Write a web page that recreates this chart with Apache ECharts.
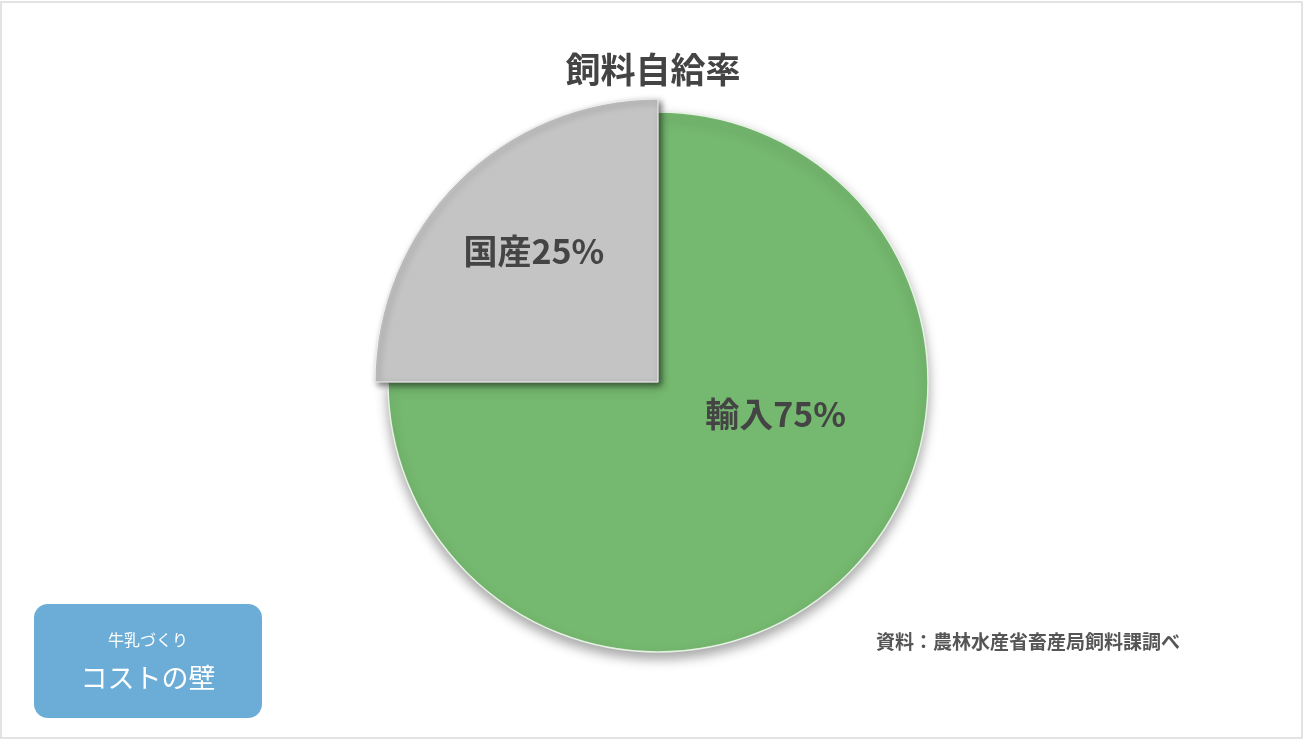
<!DOCTYPE html>
<html>
<head>
<meta charset="utf-8">
<script src="https://cdn.jsdelivr.net/npm/echarts@6/dist/echarts.min.js"></script>
<style>
html,body{margin:0;padding:0;background:#fff;}
#chart{width:1306px;height:742px;}
</style>
</head>
<body>
<div id="chart"></div>
<script>
// Data
const chartTitle = '飼料自給率';
const categories = ['輸入', '国産'];
const values = [75, 25];
const sliceColors = ['#75b86f', '#c4c4c4'];
const sourceNote = '資料：農林水産省畜産局飼料課調べ';
const badgeLines = ['牛乳づくり', 'コストの壁'];

const FONT = '"Noto Sans CJK JP", "Noto Sans", sans-serif';
const CENTER = [658, 382];

function seriesData(activeIndex) {
  return categories.map((name, i) => {
    if (i === activeIndex) {
      return {
        name, value: values[i],
        itemStyle: activeIndex === 0 ? {
          color: sliceColors[i],
          borderColor: '#e6f2e4', borderWidth: 1.5,
          shadowBlur: 12, shadowColor: 'rgba(0,0,0,0.35)', shadowOffsetX: 0, shadowOffsetY: 6
        } : {
          color: sliceColors[i],
          borderColor: '#f2f2f2', borderWidth: 1,
          shadowBlur: 6, shadowColor: 'rgba(0,0,0,0.55)', shadowOffsetX: 3, shadowOffsetY: 3
        }
      };
    }
    return {
      name: name + '_blank', value: values[i],
      itemStyle: { color: 'rgba(0,0,0,0)', borderWidth: 0, shadowBlur: 0 },
      label: { show: false }, emphasis: { disabled: true }, tooltip: { show: false }
    };
  });
}

const labelStyle = {
  show: true,
  position: 'inside',
  formatter: p => p.name + p.value + '%',
  fontFamily: FONT,
  fontSize: 34,
  fontWeight: 600,
  color: '#444'
};

const chart = echarts.init(document.getElementById('chart'));
chart.setOption({
  backgroundColor: '#fff',
  animation: false,
  title: {
    text: chartTitle,
    left: 'center',
    top: 47,
    textStyle: { fontFamily: FONT, fontSize: 35, fontWeight: 600, color: '#444' }
  },
  graphic: [
    { type: 'rect', shape: { x: 1, y: 2, width: 1301, height: 736 }, style: { fill: 'none', stroke: '#e3e3e3', lineWidth: 2 }, silent: true, z: 0 },
    { type: 'rect', shape: { x: 34, y: 604, width: 228, height: 114, r: 14 }, style: { fill: '#6badd6' }, z: 10 },
    { type: 'text', x: 148, y: 640, style: { text: badgeLines[0], fill: '#fff', font: '400 16px ' + FONT, textAlign: 'center', textVerticalAlign: 'middle' }, z: 11 },
    { type: 'text', x: 148, y: 678, style: { text: badgeLines[1], fill: '#fff', font: '400 27px ' + FONT, textAlign: 'center', textVerticalAlign: 'middle' }, z: 11 },
    { type: 'text', x: 1028, y: 642, style: { text: sourceNote, fill: '#555', font: 'bold 19px ' + FONT, textAlign: 'center', textVerticalAlign: 'middle' }, z: 11 }
  ],
  series: [
    {
      type: 'pie',
      center: CENTER,
      radius: [0, 270],
      startAngle: 90,
      clockwise: true,
      silent: true,
      label: labelStyle,
      labelLine: { show: false },
      labelLayout: function (p) { return p.dataIndex === 0 ? { dx: 20, dy: -66 } : {}; },
      data: seriesData(0),
      z: 2
    },
    {
      type: 'pie',
      center: CENTER,
      radius: [0, 283],
      startAngle: 90,
      clockwise: true,
      silent: true,
      label: labelStyle,
      labelLine: { show: false },
      labelLayout: function (p) { return p.dataIndex === 1 ? { dx: -22, dy: -29 } : {}; },
      data: seriesData(1),
      z: 3
    }
  ]
});
</script>
</body>
</html>
